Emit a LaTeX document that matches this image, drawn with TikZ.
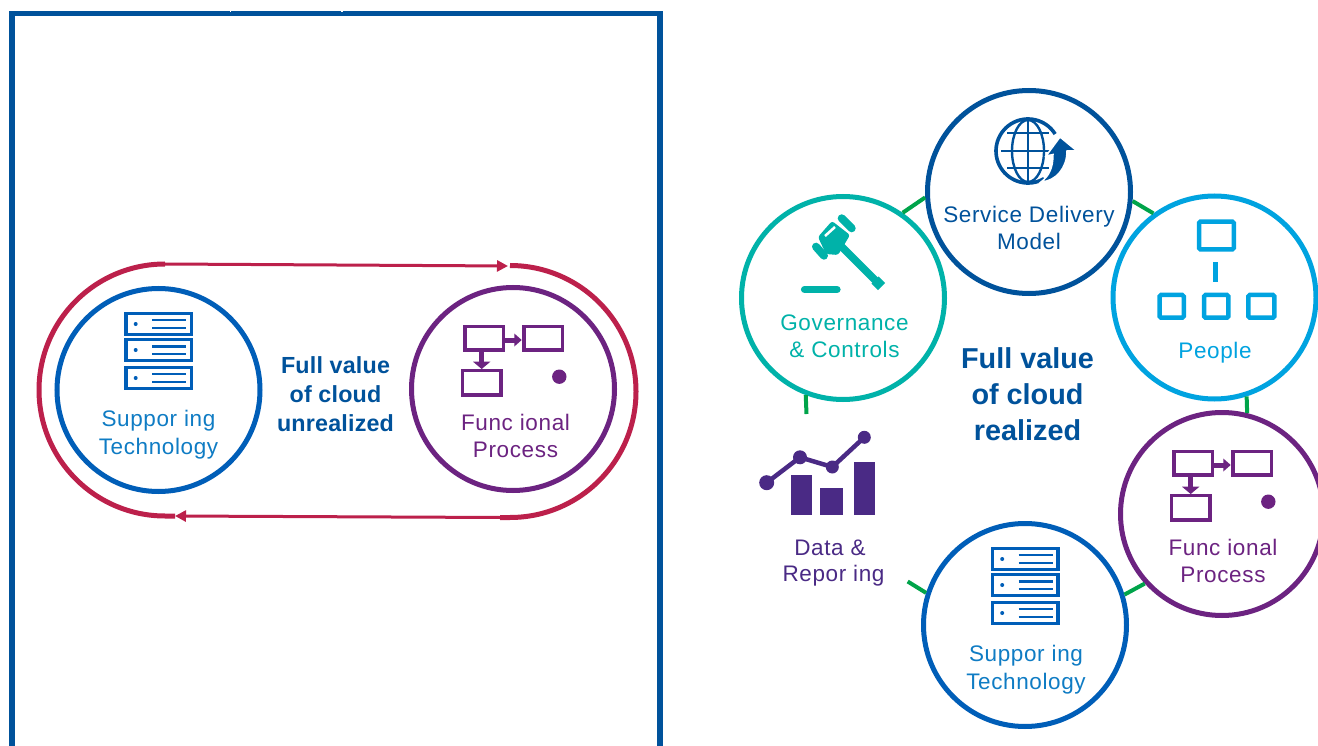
\documentclass[tikz,border=0pt]{standalone}
\usepackage{fontspec}
\setmainfont{Liberation Sans}
\usetikzlibrary{arrows.meta}
\definecolor{frameblue}{HTML}{00529B}
\definecolor{supblue}{HTML}{005EB8}
\definecolor{suptext}{HTML}{0F7CC4}
\definecolor{procpurple}{HTML}{6C2381}
\definecolor{loopred}{HTML}{BC204B}
\definecolor{govteal}{HTML}{00B2A9}
\definecolor{peopleblue}{HTML}{00A3E0}
\definecolor{ringgreen}{HTML}{00A44A}
\definecolor{datapurple}{HTML}{4A2A85}
\tikzset{
  ring/.style={circle,draw=#1,fill=white,line width=5pt,minimum size=203pt,inner sep=0pt},
  lbl/.style={text=#1,font=\fontsize{22.5}{26}\selectfont\addfontfeature{LetterSpace=2.8},inner sep=0pt,anchor=base},
  headline/.style={text=frameblue,inner sep=0pt,anchor=base},
  smallhead/.style={headline,font=\fontsize{23.3}{26}\selectfont\bfseries\addfontfeature{LetterSpace=0.8}},
  bighead/.style={headline,font=\fontsize{28.8}{32}\selectfont\bfseries},
  gapline/.style={draw=ringgreen,line width=4pt},
  looparc/.style={draw=loopred,line width=5pt},
  loopline/.style={draw=loopred,line width=3pt,-{Triangle[length=11pt,width=11pt]}},
}
\newcommand{\servericon}[2]{%
  \begin{scope}[shift={(#1,#2)},supblue]
    \foreach \yy in {-76.5,-50.5,-22.5}{
      \draw[line width=3.3pt] (-32.6,\yy) rectangle (33.1,{\yy+21});
      \fill (-22.8,{\yy+10.5}) circle (2pt);
    }
    \foreach \yy in {-70,-62,-36.3,-16.3,-8.3}{
      \draw[line width=1.7pt] (-6.5,\yy) -- (27.5,\yy);
    }
    \draw[line width=3.8pt] (-6.5,-43.5) -- (27.5,-43.5);
  \end{scope}}
\newcommand{\processicon}[2]{%
  \begin{scope}[shift={(#1,#2)},procpurple]
    \draw[line width=3.3pt] (-48.1,-62.4) rectangle (-9.3,-38.9);
    \draw[line width=3.3pt] (10.9,-62.4) rectangle (49.4,-38.9);
    \draw[line width=3.3pt] (-50.4,-18.4) rectangle (-11.9,6);
    \draw[line width=5pt] (-8,-49) -- (2,-49);
    \fill (1.3,-55.5) -- (8.7,-49) -- (1.3,-42.5) -- cycle;
    \draw[line width=5pt] (-31.3,-38) -- (-31.3,-26);
    \fill (-40,-27.3) -- (-31.3,-20) -- (-22.6,-27.3) -- cycle;
    \fill (46.3,-12.3) circle (7.2pt);
  \end{scope}}
\begin{document}
\begin{tikzpicture}[x=1pt,y=-1pt]
\path[use as bounding box,clip] (0,0) rectangle (1318,746);
\fill[white] (0,0) rectangle (1318,746);

% left panel frame
\draw[frameblue,line width=5.3pt] (12,770) -- (12,13.7) -- (660,13.7) -- (660,770);
\draw[white,line width=1.2pt] (230.5,10.5) -- (230.5,12) (342,10.5) -- (342,12);

% left panel loop
\coordinate (ra) at (165,264);
\coordinate (rb) at (508,266);
\coordinate (rc) at (510,265.5);
\coordinate (rd) at (500,517.5);
\coordinate (re) at (175,516);
\path[looparc] (ra) arc[start angle=90,end angle=270,radius=126pt] -- (re);
\path[looparc] (rc) arc[start angle=90,end angle=-90,radius=126pt] -- (rd);
\path[loopline] (ra) -- (rb);
\path[loopline] (rd) -- (re);

% left panel circles
\node[ring=supblue] (lsup) at (158.5,390) {};
\node[ring=procpurple] (lfun) at (513,389) {};
\servericon{158.5}{390}
\processicon{513}{389}
\node[lbl=suptext] (lsupa) at (158.5,426.7) {Suppor ing};
\node[lbl=suptext] (lsupb) at (158.5,454) {Technology};
\node[lbl=procpurple] (lfuna) at (515.5,430) {Func ional};
\node[lbl=procpurple] (lfunb) at (515.5,457.3) {Process};
\node[smallhead] (lha) at (335.5,373.3) {Full value};
\node[smallhead] (lhb) at (335.5,402.7) {of cloud};
\node[smallhead] (lhc) at (335.5,431.7) {unrealized};

% right panel circles
\node[ring=frameblue] (sdm) at (1029,192) {};
\node[ring=govteal] (gov) at (843,298) {};
\node[ring=peopleblue] (ppl) at (1214.5,297.5) {};
\node[ring=procpurple] (fun) at (1222,514) {};
\node[ring=supblue] (sup) at (1025,625) {};

% right panel gaps of the ring
\coordinate (da) at (907.7,581.5);
\coordinate (db) at (806.5,414);
\path[gapline] (gov.55) -- (sdm.183);
\path[gapline] (sdm.-5) -- (ppl.126);
\path[gapline] (ppl.-72) -- (fun.76);
\path[gapline] (fun.222) -- (sup.17);
\path[gapline] (da) -- (sup.162);
\path[gapline] (db) -- (gov.249);

% globe icon
\begin{scope}[shift={(1028,151)},frameblue]
  \draw[line width=3.6pt] (32:32pt) arc[start angle=32,end angle=300,radius=32pt];
  \draw[line width=2.6pt] (-21,-18) -- (21,-18) (-27,0) -- (25,0) (-21,17) -- (21,17) (0,-32) -- (0,32);
  \draw[line width=2.4pt] (0,0) ellipse[x radius=16pt,y radius=31pt];
\end{scope}
\filldraw[frameblue,draw=white,line width=1.5pt,line join=miter]
  (1060,137) -- (1077,151) -- (1067,151)
  .. controls (1067,168) and (1056,181) .. (1041,182)
  .. controls (1049,176) and (1053,168) .. (1053,154.5) -- (1046,156) -- cycle;

% gavel icon
\begin{scope}[govteal]
  \fill[rounded corners=2.5pt] (818,237) -- (832,221) -- (850,235) -- (838,255) -- (826,254) -- cycle;
  \draw[white,line width=2.5pt] (825,236) -- (835,227);
  \draw[line width=7.5pt] (841,246) -- (878,283);
  \draw[line width=10pt,line join=round] (875,280) -- (881.5,286.5);
  \draw[line width=8pt,line cap=round] (841.7,218.3) -- (851.7,228.3);
  \draw[line width=8pt,line cap=round] (816,246.7) -- (824,255.7);
  \draw[line width=7.2pt,line cap=round] (804.5,289.5) -- (837,289.5);
\end{scope}

% people icon
\begin{scope}[peopleblue,line width=4.5pt,rounded corners=1.5pt]
  \draw (1199,221.6) rectangle (1233.8,249.4);
  \draw (1159.6,295) rectangle (1183.8,317.7);
  \draw (1204,295) rectangle (1228.4,317.7);
  \draw (1248.3,295) rectangle (1274.4,317.7);
\end{scope}
\draw[peopleblue,line width=5pt] (1215,262.3) -- (1215,282.3);

% data icon
\begin{scope}[datapurple]
  \fill (791,475) rectangle (812,515);
  \fill (820,488) rectangle (843,515);
  \fill (854,462) rectangle (875,515);
  \draw[line width=4.5pt] (766.7,482.7) -- (800,457.3) -- (832.3,467) -- (864.3,437.3);
  \fill (766.7,482.7) circle (7.5pt);
  \fill (800,457.3) circle (7pt);
  \fill (832.3,467) circle (6.5pt);
  \fill (864.3,437.3) circle (6.5pt);
\end{scope}

\servericon{1025}{625}
\processicon{1222}{514}

% right panel labels
\node[lbl=frameblue] (sdma) at (1029,222.7) {Service Delivery};
\node[lbl=frameblue] (sdmb) at (1029,249.3) {Model};
\node[lbl=govteal] (gova) at (844.5,330.7) {Governance};
\node[lbl=govteal] (govb) at (844.5,357.3) {\& Controls};
\node[lbl=peopleblue] (ppla) at (1215,358.3) {People};
\node[lbl=procpurple] (funa) at (1223,555) {Func ional};
\node[lbl=procpurple] (funb) at (1223,582.3) {Process};
\node[lbl=suptext] (supa) at (1026,661.7) {Suppor ing};
\node[lbl=suptext] (supb) at (1026,689) {Technology};
\node[lbl=datapurple] (dataa) at (830,555) {Data \&};
\node[lbl=datapurple] (datab) at (833.5,581.7) {Repor ing};
\node[bighead] (rha) at (1027.5,368.3) {Full value};
\node[bighead] (rhb) at (1027.5,404.3) {of cloud};
\node[bighead] (rhc) at (1027.5,440.3) {realized};
\end{tikzpicture}
\end{document}
